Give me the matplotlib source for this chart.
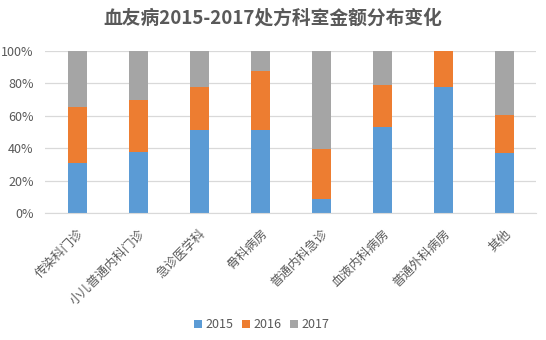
import matplotlib.pyplot as plt
import numpy as np

plt.rcParams['font.family'] = ['Noto Sans CJK SC', 'DejaVu Sans']

## Data
departments = ['传染科门诊', '小儿普通内科门诊', '急诊医学科', '骨科病房',
               '普通内科急诊', '血液内科病房', '普通外科病房', '其他']
share_2015 = [30.9, 37.8, 51.4, 51.4, 8.7, 53.3, 78.1, 36.8]
share_2016 = [34.5, 32.0, 26.4, 36.3, 30.6, 25.6, 21.9, 23.9]
share_2017 = [100 - a - b for a, b in zip(share_2015, share_2016)]
years = ['2015', '2016', '2017']
colors = ['#5B9BD5', '#ED7D31', '#A5A5A5']

## Figure
fig = plt.figure(figsize=(5.46, 3.4), dpi=100)
ax = fig.add_axes([0.082, 0.373, 0.9, 0.477])

x = np.arange(len(departments))
width = 0.31
bottom = np.zeros(len(departments))
for vals, yr, c in zip([share_2015, share_2016, share_2017], years, colors):
    ax.bar(x, vals, width, bottom=bottom, color=c, label=yr, zorder=2)
    bottom += np.array(vals)

ax.set_xlim(-0.53, 7.52)
ax.set_ylim(0, 100)
ax.set_yticks(np.arange(0, 101, 20))
ax.set_yticklabels([f'{v}%' for v in range(0, 101, 20)])
ax.yaxis.grid(True, color='#D9D9D9', linewidth=0.9, zorder=0)
ax.set_axisbelow(True)
for s in ['top', 'right', 'left']:
    ax.spines[s].set_visible(False)
ax.spines['bottom'].set_color('#D9D9D9')
ax.tick_params(axis='both', length=0, colors='#595959', labelsize=9)
ax.tick_params(axis='y', pad=8)
ax.tick_params(axis='x', pad=10)
ax.set_xticks(x)
ax.set_xticklabels(departments, rotation=45, ha='right', rotation_mode='anchor')

fig.suptitle('血友病2015-2017处方科室金额分布变化', x=0.5, y=0.975,
             fontsize=13.5, fontweight='bold', color='#595959')

fig.legend(loc='center', bbox_to_anchor=(262 / 546, 1 - 325 / 340), ncol=3,
           frameon=False, fontsize=9, handlelength=0.6, handleheight=0.6,
           handletextpad=0.3, columnspacing=0.7, labelcolor='#595959')

fig.savefig('out.png', dpi=100)
